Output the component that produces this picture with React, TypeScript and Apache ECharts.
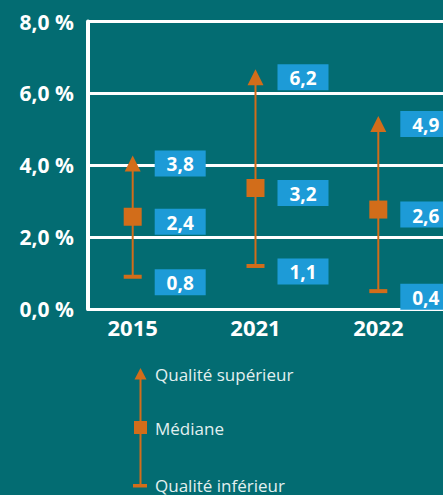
import React, { useEffect, useRef } from "react";
import * as echarts from "echarts";

const years = ["2015", "2021", "2022"];
const upper = [3.8, 6.2, 4.9];
const median = [2.4, 3.2, 2.6];
const lower = [0.8, 1.1, 0.4];
const legendLabels = ["Qualité supérieur", "Médiane", "Qualité inférieur"];

const BG = "#036c72";
const ORANGE = "#d26d1a";
const BLUE = "#1d9bd7";
const FONT = "'Open Sans', sans-serif";

const fmt = (v: number) => v.toFixed(1).replace(".", ",");

export default function App() {
  const ref = useRef<HTMLDivElement>(null);
  useEffect(() => {
    if (!ref.current) return;
    const chart = echarts.init(ref.current, null, { renderer: "svg" });
    const data = years.map((_, i) => [i, lower[i], median[i], upper[i]]);

    const label = (x: number, yc: number, v: number) => [
      { type: "rect", shape: { x: x + 22, y: yc - 13, width: 51, height: 26 }, style: { fill: BLUE } },
      {
        type: "text",
        style: {
          x: x + 47.5, y: yc + 1, text: fmt(v), fill: "#ffffff",
          font: `bold 19px ${FONT}`, align: "center", verticalAlign: "middle",
        },
      },
    ];

    chart.setOption({
      animation: false,
      backgroundColor: BG,
      grid: [
        { left: 88, top: 21.5, width: 360, height: 287.5 },
        { left: 71.3, top: 21.5, width: 368.4, height: 287.5 },
      ],
      xAxis: [
        {
          gridIndex: 0, type: "value", min: 0, max: 1,
          axisLine: { show: true, lineStyle: { color: "#ffffff", width: 3 } },
          axisTick: { show: false }, axisLabel: { show: false }, splitLine: { show: false },
        },
        {
          gridIndex: 1, type: "category", data: years, boundaryGap: true,
          axisLine: { show: false }, axisTick: { show: false }, splitLine: { show: false },
          axisLabel: { color: "#ffffff", fontFamily: FONT, fontWeight: "bold", fontSize: 22, margin: 7 },
        },
      ],
      yAxis: [
        {
          gridIndex: 0, type: "value", min: 0, max: 8, interval: 2,
          axisLine: { show: true, lineStyle: { color: "#ffffff", width: 4 } },
          axisTick: { show: false },
          splitLine: { show: true, lineStyle: { color: "#ffffff", width: 3 } },
          axisLabel: {
            color: "#ffffff", fontFamily: FONT, fontWeight: "bold", fontSize: 21, margin: 14,
            formatter: (v: number) => `${fmt(v)} %`,
          },
        },
        { gridIndex: 1, type: "value", min: 0, max: 8, show: false },
      ],
      series: [
        {
          type: "custom",
          xAxisIndex: 1,
          yAxisIndex: 1,
          clip: false,
          data,
          renderItem: (params: any, api: any) => {
            const i = api.value(0);
            const x = api.coord([i, 0])[0];
            const yLow = api.coord([i, api.value(1)])[1];
            const yMed = api.coord([i, api.value(2)])[1];
            const yHigh = api.coord([i, api.value(3)])[1];
            const children: any[] = [
              { type: "line", shape: { x1: x, y1: yLow - 3, x2: x, y2: yHigh - 2 }, style: { stroke: ORANGE, lineWidth: 2 } },
              { type: "rect", shape: { x: x - 9, y: yLow - 5.5, width: 18, height: 4 }, style: { fill: ORANGE } },
              { type: "polygon", shape: { points: [[x - 8, yHigh - 1], [x + 8, yHigh - 1], [x, yHigh - 17]] }, style: { fill: ORANGE } },
              { type: "rect", shape: { x: x - 9, y: yMed - 15, width: 18, height: 18 }, style: { fill: ORANGE } },
              ...label(x, yHigh - 9, api.value(3)),
              ...label(x, yMed - 1, api.value(2)),
              ...label(x, yLow + 2, api.value(1)),
            ];
            return { type: "group", children };
          },
        },
      ],
      graphic: [
        { type: "line", shape: { x1: 140.5, y1: 378, x2: 140.5, y2: 486 }, style: { stroke: ORANGE, lineWidth: 2 } },
        { type: "polygon", shape: { points: [[134.5, 379.5], [146.5, 379.5], [140.5, 368]] }, style: { fill: ORANGE } },
        { type: "rect", shape: { x: 134, y: 421, width: 13, height: 13 }, style: { fill: ORANGE } },
        { type: "rect", shape: { x: 133, y: 484, width: 14, height: 3.5 }, style: { fill: ORANGE } },
        ...legendLabels.map((t, k) => ({
          type: "text",
          x: 155,
          y: [374.5, 428, 485][k],
          style: { text: t, fill: "#e2f0f0", font: `17px ${FONT}`, verticalAlign: "middle" },
        })),
      ],
    });
    return () => chart.dispose();
  }, []);
  return <div ref={ref} style={{ position: "absolute", left: 0, top: 0, width: 443, height: 495 }} />;
}
